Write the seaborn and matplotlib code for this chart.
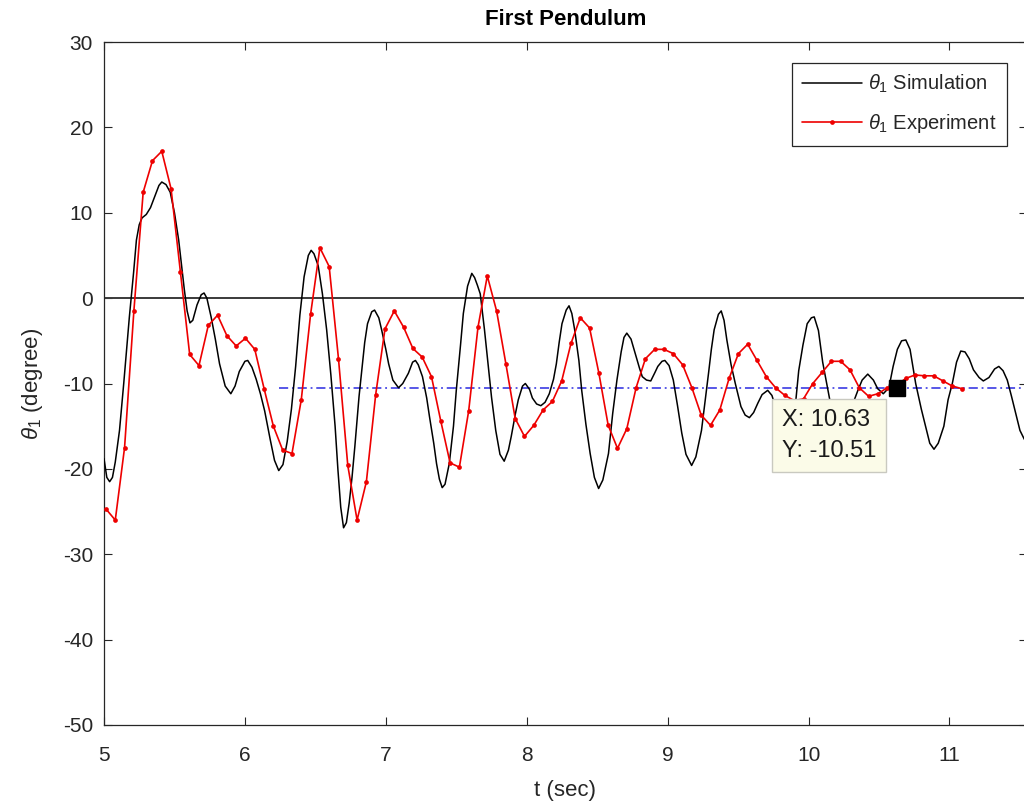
import numpy as np
import pandas as pd
import matplotlib
matplotlib.use("Agg")
import matplotlib.pyplot as plt
import seaborn as sns

# Simulated angle of the first pendulum (time in s, angle in degrees)
sim_t = [5.00, 5.02, 5.04, 5.06, 5.08, 5.11, 5.14, 5.18, 5.21, 5.23, 5.25, 5.27, 5.30, 5.33,
         5.36, 5.39, 5.41, 5.44, 5.47, 5.50, 5.53, 5.57, 5.59, 5.61, 5.63, 5.66, 5.69, 5.71,
         5.73, 5.76, 5.79, 5.82, 5.86, 5.90, 5.93, 5.96, 6.00, 6.02, 6.05, 6.08, 6.11, 6.14,
         6.18, 6.21, 6.24, 6.27, 6.30, 6.33, 6.36, 6.39, 6.42, 6.45, 6.47, 6.49, 6.52, 6.55,
         6.58, 6.61, 6.64, 6.66, 6.68, 6.70, 6.72, 6.74, 6.76, 6.78, 6.81, 6.83, 6.85, 6.87,
         6.90, 6.92, 6.95, 6.97, 7.00, 7.02, 7.05, 7.09, 7.12, 7.16, 7.19, 7.21, 7.23, 7.26,
         7.29, 7.31, 7.34, 7.36, 7.38, 7.40, 7.42, 7.45, 7.48, 7.50, 7.53, 7.55, 7.58, 7.61,
         7.63, 7.65, 7.67, 7.70, 7.73, 7.75, 7.78, 7.81, 7.84, 7.87, 7.89, 7.92, 7.94, 7.97,
         7.99, 8.02, 8.04, 8.07, 8.10, 8.13, 8.16, 8.19, 8.21, 8.23, 8.25, 8.28, 8.30, 8.32,
         8.34, 8.37, 8.39, 8.42, 8.45, 8.48, 8.51, 8.54, 8.58, 8.61, 8.64, 8.67, 8.69, 8.71,
         8.74, 8.77, 8.80, 8.82, 8.85, 8.88, 8.91, 8.93, 8.96, 8.98, 9.01, 9.04, 9.07, 9.10,
         9.13, 9.17, 9.20, 9.24, 9.27, 9.29, 9.31, 9.33, 9.36, 9.38, 9.40, 9.42, 9.45, 9.48,
         9.52, 9.55, 9.58, 9.61, 9.64, 9.67, 9.71, 9.74, 9.77, 9.81, 9.84, 9.87, 9.91, 9.93,
         9.96, 9.99, 10.02, 10.04, 10.07, 10.10, 10.15, 10.18, 10.22, 10.26, 10.30, 10.35,
         10.38, 10.42, 10.46, 10.49, 10.53, 10.57, 10.60, 10.63, 10.66, 10.69, 10.72, 10.74,
         10.76, 10.80, 10.83, 10.86, 10.89, 10.92, 10.96, 10.99, 11.02, 11.05, 11.08, 11.11,
         11.14, 11.17, 11.21, 11.24, 11.28, 11.32, 11.35, 11.38, 11.41, 11.44, 11.47, 11.50,
         11.53, 11.56]
sim_deg = [-18.8, -21.0, -21.5, -21.0, -19.2, -15.5, -10.0, -2.2, 3.0, 6.8, 8.6, 9.4, 9.8, 10.6,
           11.9, 13.2, 13.6, 13.3, 12.4, 10.0, 6.8, 1.0, -1.5, -2.9, -2.6, -0.8, 0.4, 0.6,
           0.0, -2.2, -4.8, -7.7, -10.3, -11.2, -10.3, -8.6, -7.4, -7.3, -8.1, -9.5, -11.2, -13.2,
           -16.6, -19.0, -20.2, -19.5, -16.8, -13.0, -8.0, -2.0, 2.5, 5.0, 5.6, 5.2, 3.8, 0.5,
           -3.7, -9.0, -15.0, -20.1, -24.5, -26.9, -26.3, -24.0, -21.0, -17.4, -11.5, -8.4, -5.2, -3.0,
           -1.6, -1.4, -2.3, -3.7, -6.0, -7.7, -9.6, -10.5, -10.0, -8.8, -7.5, -7.3, -7.8, -9.2,
           -11.7, -13.9, -17.0, -19.4, -21.2, -22.2, -21.8, -19.4, -15.0, -10.8, -5.5, -1.8, 1.4, 2.9,
           2.4, 1.5, 0.5, -3.7, -8.5, -11.6, -15.5, -18.3, -19.1, -17.8, -16.2, -13.5, -11.9, -10.3,
           -10.0, -10.7, -11.7, -12.4, -12.6, -12.2, -11.2, -9.5, -7.7, -5.2, -3.0, -1.4, -0.9, -1.8,
           -3.7, -7.3, -10.8, -14.8, -18.2, -21.0, -22.3, -21.3, -18.2, -13.5, -9.6, -6.3, -4.6, -4.1,
           -4.8, -6.5, -8.2, -9.2, -9.6, -9.7, -8.7, -8.0, -7.4, -7.3, -7.9, -9.6, -12.6, -15.8,
           -18.3, -19.6, -18.6, -15.5, -11.5, -8.8, -6.0, -3.7, -1.9, -1.5, -2.6, -4.9, -7.8, -10.0,
           -12.7, -13.7, -14.0, -13.4, -12.3, -11.3, -10.8, -11.4, -13.0, -14.8, -15.2, -13.8, -11.9, -8.5,
           -5.5, -3.0, -2.3, -2.2, -3.8, -7.5, -11.9, -14.5, -15.8, -15.0, -13.0, -10.8,
           -9.6, -8.9, -9.6, -10.6, -11.2, -10.5, -8.0, -6.0, -5.0, -4.9, -6.0, -8.0,
           -10.0, -13.0, -15.0, -17.0, -17.7, -17.0, -15.0, -11.9, -10.0, -7.5, -6.2, -6.3,
           -7.1, -8.4, -9.3, -9.7, -9.3, -8.3, -8.0, -8.5, -9.6, -11.5, -13.5, -15.5,
           -16.5, -17.2]

# Measured angle, sampled every 0.066 s from t0
exp_t0 = 5.014
exp_dt = 0.066
exp_deg = [-24.7, -26.0, -17.5, -1.5, 12.4, 16.1, 17.2, 12.8, 3.1, -6.6,
           -7.9, -3.2, -2.0, -4.4, -5.6, -4.7, -6.0, -10.6, -15.0, -17.8,
           -18.2, -11.9, -1.9, 5.9, 3.7, -7.1, -19.6, -26.0, -21.5, -11.3,
           -3.6, -1.5, -3.4, -5.9, -6.9, -9.2, -14.4, -19.3, -19.8, -13.2,
           -3.4, 2.6, -1.5, -7.7, -14.1, -16.2, -14.9, -13.1, -12.1, -9.7,
           -5.3, -2.3, -3.5, -8.8, -14.9, -17.6, -15.3, -10.5, -7.1, -6.0,
           -6.0, -6.5, -7.8, -10.5, -13.7, -14.9, -13.1, -9.4, -6.5, -5.4,
           -7.3, -9.2, -10.5, -11.4, -12.0, -11.8, -10.0, -8.7, -7.4, -7.4,
           -8.4, -10.5, -11.5, -11.2, -10.5, -10.2, -9.4, -9.0, -9.1, -9.1,
           -9.7, -10.3, -10.6]
exp_t = [exp_t0 + i * exp_dt for i in range(len(exp_deg))]

# Reference level and data tip
ref_t = [6.24, 11.6]
tip_x, tip_y = 10.63, -10.51

x_ticks = [5, 6, 7, 8, 9, 10, 11]
y_ticks = [-50, -40, -30, -20, -10, 0, 10, 20, 30]

sim_df = pd.DataFrame({"t": sim_t, "deg": sim_deg})
exp_df = pd.DataFrame({"t": exp_t, "deg": exp_deg})
ref_df = pd.DataFrame({"t": ref_t, "deg": [tip_y] * len(ref_t)})

sns.set_theme(style="ticks")
plt.rcParams["font.family"] = ["Liberation Sans", "DejaVu Sans"]
plt.rcParams["mathtext.fontset"] = "custom"
plt.rcParams["mathtext.it"] = "Liberation Sans:italic"
plt.rcParams["mathtext.rm"] = "Liberation Sans"
plt.rcParams["axes.unicode_minus"] = False

W, H = 1024, 806
fig = plt.figure(figsize=(W / 100, H / 100), dpi=100)
ax = fig.add_axes([104 / W, 1 - 725 / H, (1027 - 104) / W, (725 - 42) / H])

ax.axhline(0, color="#3a3a3a", lw=1.4, zorder=1)
sns.lineplot(data=sim_df, x="t", y="deg", ax=ax, color="black", lw=1.1,
             sort=False, estimator=None, label=r"$\theta_1$ Simulation", zorder=3)
sns.lineplot(data=exp_df, x="t", y="deg", ax=ax, color="#ee0000", lw=1.2,
             marker="o", markersize=3.4, markeredgewidth=0,
             sort=False, estimator=None, label=r"$\theta_1$ Experiment", zorder=4)
sns.lineplot(data=ref_df, x="t", y="deg", ax=ax, color="#2a2ae0", lw=1.1,
             linestyle=(0, (6, 2.5, 1.2, 2.5)), sort=False, estimator=None,
             legend=False, zorder=2)

ax.plot([tip_x], [tip_y], marker="s", ms=11, color="black", zorder=6)
ax.annotate(f"X: {tip_x:.2f}\nY: {tip_y:.2f}", xy=(tip_x, tip_y),
            xytext=(-15, -15), textcoords="offset points", ha="right", va="top",
            multialignment="left", fontsize=17, linespacing=1.55, color="#1a1a1a",
            zorder=7,
            bbox=dict(boxstyle="square,pad=0.42", fc="#fbfbe8", ec="#c9c9c0", lw=1))

ax.set_xlim(5, 11.55)
ax.set_ylim(-50, 30)
ax.set_xticks(x_ticks)
ax.set_yticks(y_ticks)
ax.tick_params(direction="in", top=True, right=True, length=6, width=0.8,
               labelsize=15, color="#262626", labelcolor="#262626")
ax.tick_params(axis="x", pad=15)
ax.tick_params(axis="y", pad=8)
for s in ax.spines.values():
    s.set_color("#262626")
    s.set_linewidth(0.9)

ax.set_title("First Pendulum", fontsize=16, fontweight="bold", pad=12, color="black")
ax.set_xlabel("t (sec)", fontsize=16, color="#262626", labelpad=11)
ax.set_ylabel(r"$\theta_1$ (degree)", fontsize=16, color="#262626", labelpad=13)

leg = ax.legend(loc="upper right", bbox_to_anchor=(1 - 20 / 923, 1 - 21 / 683),
                borderaxespad=0, fontsize=14.5, frameon=True, fancybox=False,
                handlelength=3.0, handletextpad=0.3, borderpad=0.5, labelspacing=0.85)
leg.get_frame().set_edgecolor("#262626")
leg.get_frame().set_linewidth(0.9)
leg.get_frame().set_facecolor("white")
leg.get_frame().set_alpha(1)

fig.savefig("out.png", dpi=100)
